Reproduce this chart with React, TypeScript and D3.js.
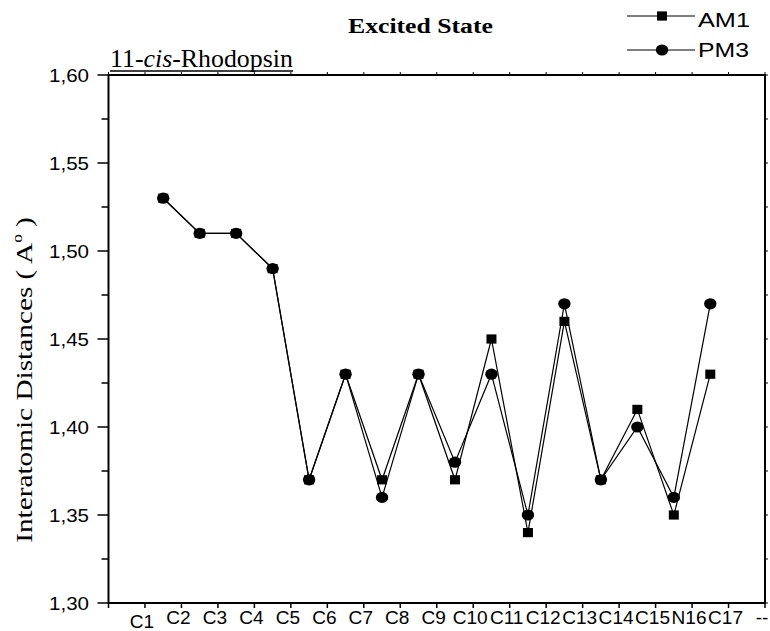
import React, { useLayoutEffect, useRef, useState } from 'react';
import * as d3 from 'd3';

// atom labels along the chain, the last slot is a dash
const atomLabels = ['C1', 'C2', 'C3', 'C4', 'C5', 'C6', 'C7', 'C8', 'C9', 'C10', 'C11', 'C12', 'C13', 'C14', 'C15', 'N16', 'C17', '--'];

// interatomic distances (Å), one per bond
const am1Values = [1.53, 1.51, 1.51, 1.49, 1.37, 1.43, 1.37, 1.43, 1.37, 1.45, 1.34, 1.46, 1.37, 1.41, 1.35, 1.43];
const pm3Values = [1.53, 1.51, 1.51, 1.49, 1.37, 1.43, 1.36, 1.43, 1.38, 1.43, 1.35, 1.47, 1.37, 1.40, 1.36, 1.47];

const yTickValues = [1.3, 1.35, 1.4, 1.45, 1.5, 1.55, 1.6];

const W = 770;
const H = 631;
const margin = { top: 75, right: 5, bottom: 28, left: 108.5 };

const serif = '"Liberation Serif", "Times New Roman", serif';
const sans = '"Liberation Sans", Arial, sans-serif';

// text stretched along its run to a given length (the source figure is stretched wide)
const FitText: React.FC<{
  x: number;
  y: number;
  target: number;
  anchor?: string;
  rotate?: number;
  fontFamily: string;
  fontSize: number;
  fontWeight?: string;
  children: React.ReactNode;
}> = ({ x, y, target, anchor = 'start', rotate = 0, children, ...rest }) => {
  const ref = useRef<SVGTextElement>(null);
  const [sx, setSx] = useState(1);
  useLayoutEffect(() => {
    if (ref.current) {
      const w = ref.current.getComputedTextLength();
      if (w > 0) setSx(target / w);
    }
  }, [target]);
  return (
    <text ref={ref} transform={`translate(${x},${y}) rotate(${rotate}) scale(${sx},1)`} textAnchor={anchor} {...rest}>
      {children}
    </text>
  );
};

const Square: React.FC<{ cx: number; cy: number }> = ({ cx, cy }) => (
  <rect x={cx - 5} y={cy - 4.6} width={10} height={9.2} fill="#000" />
);

const Dot: React.FC<{ cx: number; cy: number }> = ({ cx, cy }) => (
  <ellipse cx={cx} cy={cy} rx={6.2} ry={5.6} fill="#000" />
);

export default function App() {
  const x = d3.scaleLinear().domain([0, atomLabels.length]).range([margin.left, W - margin.right]);
  const y = d3.scaleLinear().domain([1.3, 1.6]).range([H - margin.bottom, margin.top]);

  const line = d3.line<number>()
    .x((_, i) => x(i + 1.5))
    .y(d => y(d));

  const fmt = (v: number) => d3.format('.2f')(v).replace('.', ',');
  const minorY = d3.range(0, 13).map(i => 1.3 + i * 0.025);
  const xTicks = d3.range(0, atomLabels.length + 1);

  const [x0, x1] = x.range();
  const [y0, y1] = y.range();

  return (
    <svg width={W} height={H} style={{ position: 'absolute', left: 0, top: 0, background: '#fff' }}>
      {/* titles */}
      <FitText x={348} y={33} target={145} fontFamily={serif} fontWeight="bold" fontSize={22}>
        Excited State
      </FitText>
      <FitText x={110} y={67} target={183} fontFamily={serif} fontSize={25}>
        11-<tspan fontStyle="italic">cis</tspan>-Rhodopsin
      </FitText>
      <line x1={110} x2={293} y1={71} y2={71} stroke="#000" strokeWidth={1.5} />

      {/* legend */}
      <g>
        <line x1={627} x2={695} y1={16} y2={16} stroke="#000" strokeWidth={1} />
        <Square cx={662} cy={16} />
        <FitText x={698} y={27} target={52} fontFamily={sans} fontSize={21}>AM1</FitText>
        <line x1={627} x2={695} y1={50} y2={50} stroke="#000" strokeWidth={1} />
        <Dot cx={662} cy={50} />
        <FitText x={698} y={57} target={51} fontFamily={sans} fontSize={21}>PM3</FitText>
      </g>

      {/* frame */}
      <rect x={x0} y={y1} width={x1 - x0} height={y0 - y1} fill="none" stroke="#000" strokeWidth={2} />

      {/* left axis */}
      {minorY.map((v, i) => (
        <line key={`ly${i}`} x1={x0} x2={x0 - (i % 2 === 0 ? 11 : 7)} y1={y(v)} y2={y(v)} stroke="#000" strokeWidth={1.5} />
      ))}
      {/* right axis small ticks */}
      {minorY.map((v, i) => (
        <line key={`ry${i}`} x1={x1} x2={x1 + 3} y1={y(v)} y2={y(v)} stroke="#000" strokeWidth={1} />
      ))}
      {yTickValues.map(v => (
        <FitText key={`yt${v}`} x={89} y={y(v) + 6.5} target={40} anchor="end" fontFamily={sans} fontSize={18}>
          {fmt(v)}
        </FitText>
      ))}

      {/* bottom + top ticks */}
      {xTicks.map(t => (
        <g key={`xt${t}`}>
          <line x1={x(t)} x2={x(t)} y1={y0} y2={y0 + 5} stroke="#000" strokeWidth={1.5} />
          <line x1={x(t)} x2={x(t)} y1={y1} y2={y1 - 3} stroke="#000" strokeWidth={1} />
        </g>
      ))}
      {atomLabels.map((lab, i) => (
        <text
          key={`xl${lab}`}
          transform={`translate(${x(i + 1) - 3},${i === 0 ? 628 : 624}) scale(1.06,1)`}
          textAnchor="middle"
          fontFamily={sans}
          fontSize={18}
        >
          {lab}
        </text>
      ))}

      {/* y axis title */}
      <FitText x={32} y={380} rotate={-90} target={326} anchor="middle" fontFamily={serif} fontSize={24}>
        Interatomic Distances ( A<tspan dy={-10} fontSize={14}>o</tspan><tspan dy={10}> )</tspan>
      </FitText>

      {/* series */}
      <path d={line(am1Values) || ''} fill="none" stroke="#000" strokeWidth={1.2} />
      <path d={line(pm3Values) || ''} fill="none" stroke="#000" strokeWidth={1.2} />
      {am1Values.map((v, i) => (
        <Square key={`am${i}`} cx={x(i + 1.5)} cy={y(v)} />
      ))}
      {pm3Values.map((v, i) => (
        <Dot key={`pm${i}`} cx={x(i + 1.5)} cy={y(v)} />
      ))}
    </svg>
  );
}
